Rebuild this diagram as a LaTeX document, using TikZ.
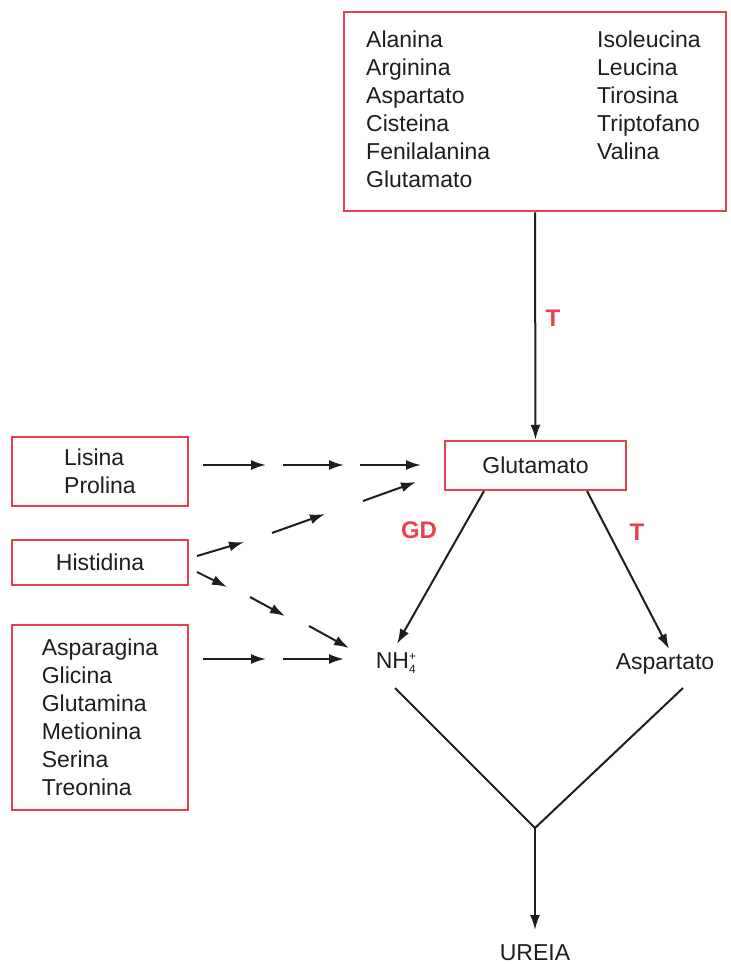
\documentclass[tikz,border=0pt]{standalone}
\usepackage{fontspec}
\setmainfont{Liberation Sans}
\usetikzlibrary{arrows.meta}
\definecolor{boxred}{RGB}{232,64,76}
\definecolor{ink}{RGB}{30,30,30}
\begin{document}
\begin{tikzpicture}[x=1pt,y=-1pt,
  box/.style={draw=boxred,line width=2.5pt,inner sep=0pt,text=ink,font=\fontsize{23}{28}\selectfont,align=left},
  txt/.style={font=\fontsize{23}{28}\selectfont,inner sep=0pt,align=left,text=ink},
  arr/.style={draw=ink,line width=2pt,-{Latex[length=15pt,width=10pt]}},
  seg/.style={draw=ink,line width=2pt},
  lbl/.style={text=boxred,font=\fontsize{24}{26}\selectfont\bfseries,inner sep=0pt}]
\useasboundingbox (0,0) rectangle (731,964);
\fill[white] (0,0) rectangle (731,964);
% boxes
\node[box,minimum width=382pt,minimum height=199pt] (top) at (535,111.5) {};
\node[txt,anchor=north west] (colA) at (366,31) {Alanina\\Arginina\\Aspartato\\Cisteina\\Fenilalanina\\Glutamato};
\node[txt,anchor=north west] (colB) at (597,31) {Isoleucina\\Leucina\\Tirosina\\Triptofano\\Valina};
\node[box,minimum width=181pt,minimum height=49pt] (glu) at (535.5,465.5) {Glutamato};
\node[box,minimum width=176pt,minimum height=69pt] (lis) at (100,471.5) {Lisina\\Prolina};
\node[box,minimum width=176pt,minimum height=45pt] (his) at (100,562.5) {Histidina};
\node[box,minimum width=176pt,minimum height=185pt] (asg) at (100,717.5) {Asparagina\\Glicina\\Glutamina\\Metionina\\Serina\\Treonina};
% plain labels
\node[txt] (nh) at (396,663) {NH\rlap{\raisebox{-0.35ex}{\fontsize{12}{12}\selectfont 4}}\raisebox{0.7ex}{\fontsize{12}{12}\selectfont +}};
\node[txt] (asp) at (665,664) {Aspartato};
\node[txt] (ure) at (535,953) {UREIA};
\node[lbl] (t1) at (553,318) {T};
\node[lbl] (gd) at (419,530) {GD};
\node[lbl] (t2) at (637,532) {T};
% coordinates
\coordinate (gluL) at (484,491);
\coordinate (gluR) at (587,491);
\coordinate (nhT) at (397,644);
\coordinate (aspT) at (669,649);
\coordinate (nhB) at (395,688);
\coordinate (aspB) at (683,688);
\coordinate (join) at (535,828);
\coordinate (ureT) at (535,930);
% main arrows
\draw[arr] (top.south) -- (glu.north);
\draw[arr] (gluL) -- (nhT);
\draw[arr] (gluR) -- (aspT);
\draw[seg] (nhB) -- (join);
\draw[seg] (aspB) -- (join);
\draw[arr] (join) -- (ureT);
% Lisina row
\coordinate (a1) at (203,465); \coordinate (a2) at (266,465);
\coordinate (a3) at (283,465); \coordinate (a4) at (344,465);
\coordinate (a5) at (360,465); \coordinate (a6) at (421,465);
\draw[arr] (a1) -- (a2); \draw[arr] (a3) -- (a4); \draw[arr] (a5) -- (a6);
% Histidina up
\coordinate (b1) at (197,556); \coordinate (b2) at (244,542);
\coordinate (b3) at (272,533); \coordinate (b4) at (325,514);
\coordinate (b5) at (363,501); \coordinate (b6) at (416,482);
\draw[arr] (b1) -- (b2); \draw[arr] (b3) -- (b4); \draw[arr] (b5) -- (b6);
% Histidina down
\coordinate (c1) at (197,572); \coordinate (c2) at (227,587);
\coordinate (c3) at (250,597); \coordinate (c4) at (285,616);
\coordinate (c5) at (309,626); \coordinate (c6) at (349,648);
\draw[arr] (c1) -- (c2); \draw[arr] (c3) -- (c4); \draw[arr] (c5) -- (c6);
% Asparagina row
\coordinate (d1) at (203,659); \coordinate (d2) at (266,659);
\coordinate (d3) at (283,659); \coordinate (d4) at (344,659);
\draw[arr] (d1) -- (d2); \draw[arr] (d3) -- (d4);
\end{tikzpicture}
\end{document}
